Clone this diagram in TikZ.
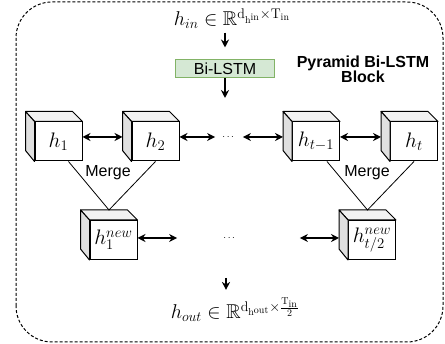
\RequirePackage{fix-cm}
\documentclass[tikz,border=0pt]{standalone}
\usepackage{amsmath,amssymb}
\usepackage{fontspec}
\newfontfamily\helv{Liberation Sans}
\usetikzlibrary{arrows.meta}
\definecolor{lstmdarkgreen}{HTML}{82B366}
\definecolor{lstmlightgreen}{HTML}{D5E8D4}
\definecolor{cubetop}{HTML}{F2F2F2}
\definecolor{cubeside}{HTML}{E0E0E0}
% back faces of a cube whose front face is the node #1
\newcommand{\cubeback}[1]{
  \filldraw[fill=cubetop, line width=1pt, line join=round]
    (#1.north west) -- ++(-9,10) -- ++(47,0) -- (#1.north east) -- cycle;
  \filldraw[fill=cubeside, line width=1pt, line join=round]
    (#1.north west) -- ++(-9,10) -- ++(0,-39) -- (#1.south west) -- cycle;
}

\begin{document}
\begin{tikzpicture}[x=1pt,y=1pt,
    cubebox/.style={draw, fill=white, line width=1pt, minimum width=47pt,
                    minimum height=39pt, inner sep=0pt,
                    font=\fontsize{21}{25}\selectfont},
    arr/.style={line width=1.3pt, -{Stealth[length=8pt,width=8pt]}},
    biarr/.style={line width=1.3pt,
                  {Stealth[length=8pt,width=8pt]}-{Stealth[length=8pt,width=8pt]}},
    mergeline/.style={line width=0.8pt},
    sftext/.style={font=\helv\fontsize{16}{15}\selectfont},
    dotsnode/.style={inner sep=0pt, font=\fontsize{10}{10}\selectfont}]
  \useasboundingbox (0,0) rectangle (445,344);

  % block border
  \draw[line width=1pt, dash pattern=on 3pt off 2pt, rounded corners=36pt]
    (16,2) rectangle (443,342);

  % input, Bi-LSTM and title
  \node[anchor=base, font=\fontsize{20}{24}\selectfont] (hin) at (232,318)
    {$h_{in} \in \mathbb{R}^{\mathrm{d}_{\mathrm{h}^{\mathrm{in}}} \times \mathrm{T}_{\mathrm{in}}}$};
  \node[
        draw=lstmdarkgreen,
        fill=lstmlightgreen,
        line width=1pt,
        minimum width=99pt,
        minimum height=18pt,
        inner sep=0pt,
        sftext
       ] (bilstm) at (225,275) {Bi-LSTM};
  \node[sftext, align=center, font=\helv\bfseries\fontsize{16}{15}\selectfont]
    (title) at (363,275) {Pyramid Bi-LSTM\\Block};
  \coordinate (split) at (225,246);

  % first level
  \node[cubebox] (h1)   at (58.5,202.5) {$h_1$};
  \node[cubebox] (h2)   at (155.5,202.5) {$h_2$};
  \node[cubebox] (htm1) at (316,202.5) {$h_{t-1}$};
  \node[cubebox] (ht)   at (414,202.5) {$h_t$};
  \foreach \c in {h1,h2,htm1,ht} {\cubeback{\c}}
  \node[dotsnode] (dots1) at (229,207) {$\cdots$};

  % merged level
  \node[cubebox] (n1) at (113.5,104) {$h_1^{new}$};
  \node[cubebox] (nt) at (372,104) {$h_{t/2}^{new}$};
  \foreach \c in {n1,nt} {\cubeback{\c}}
  \node[dotsnode] (dots2) at (230,106) {$\cdots$};

  % output
  \coordinate (merged) at (226,66);
  \node[anchor=base, font=\fontsize{20}{24}\selectfont] (hout) at (235,25)
    {$h_{out} \in \mathbb{R}^{\mathrm{d}_{\mathrm{h}^{\mathrm{out}}} \times \frac{\mathrm{T}_{\mathrm{in}}}{2}}$};

  % connectors
  \draw[arr, shorten >=12pt] (hin.south -| bilstm.north) -- (bilstm.north);
  \draw[arr] (bilstm.south) -- (split);
  \draw[biarr] (h1.east |- dots1) -- ([xshift=-9pt]h2.west |- dots1);
  \draw[biarr, shorten >=7pt] (h2.east |- dots1) -- (dots1);
  \draw[biarr, shorten <=7pt] (dots1) -- ([xshift=-9pt]htm1.west |- dots1);
  \draw[biarr] (htm1.east |- dots1) -- ([xshift=-9pt]ht.west |- dots1);
  \draw[biarr, shorten >=46pt] (n1.east |- dots2) -- (dots2);
  \draw[biarr, shorten <=63pt] (dots2) -- ([xshift=-9pt]nt.west |- dots2);
  \draw[mergeline] ([xshift=10pt]h1.south) -- ([shift={(-4.5pt,10pt)}]n1.north) -- (h2.south);
  \draw[mergeline] ([xshift=11pt]htm1.south) -- ([shift={(-4.5pt,10pt)}]nt.north) -- (ht.south);
  \node[sftext] (merge1) at (108,171) {Merge};
  \node[sftext] (merge2) at (367,171) {Merge};
  \draw[arr, shorten >=4pt] (merged) -- (hout.north -| merged);
\end{tikzpicture}
\end{document}
